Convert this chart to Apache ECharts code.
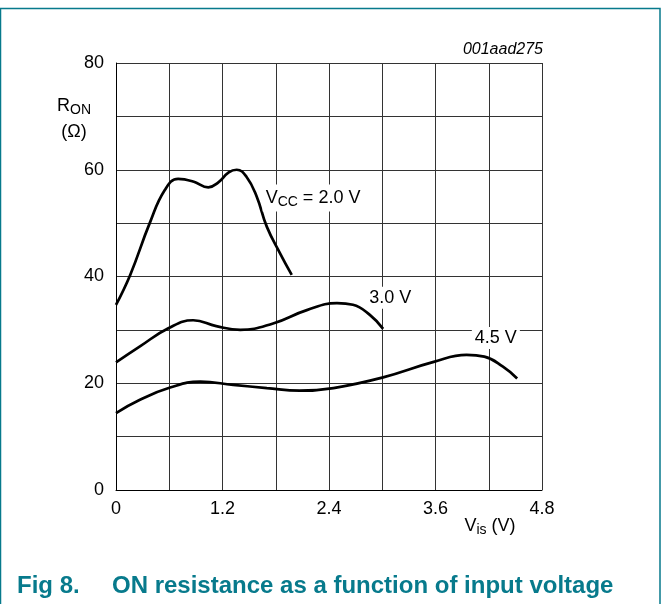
<!DOCTYPE html>
<html>
<head>
<meta charset="utf-8">
<script src="https://cdn.jsdelivr.net/npm/echarts@6/dist/echarts.min.js"></script>
<style>
html,body{margin:0;padding:0;background:#fff;}
#c{width:662px;height:604px;}
</style>
</head>
<body>
<div id="c"></div>
<script>
// Vis (V) and RON (ohm) for each supply voltage
var vis20 = [0, 0.16, 0.38, 0.55, 0.70, 0.87, 1.04, 1.15, 1.27, 1.36, 1.47, 1.585, 1.70, 1.85, 1.98];
var ron20 = [34.7, 40.3, 50.0, 56.2, 58.3, 57.8, 56.7, 57.6, 59.5, 60.0, 58.7, 55.0, 49.3, 44.3, 40.3];
var vis30 = [0, 0.27, 0.59, 0.87, 1.13, 1.40, 1.77, 2.15, 2.49, 2.67, 2.86, 3.01];
var ron30 = [23.9, 26.9, 30.3, 31.8, 30.7, 30.0, 31.2, 33.7, 35.0, 34.7, 32.8, 30.2];
var vis45 = [0, 0.27, 0.61, 0.95, 1.32, 1.70, 2.07, 2.45, 3.01, 3.58, 3.95, 4.15, 4.36, 4.52];
var ron45 = [14.4, 16.9, 19.2, 20.3, 19.7, 19.1, 18.6, 19.1, 21.1, 24.0, 25.3, 25.0, 23.1, 20.9];
var xTicks = [0, 1.2, 2.4, 3.6, 4.8];
var yTicks = [0, 20, 40, 60, 80];
var curveLabels = ['V{sub|CC} = 2.0 V', '3.0 V', '4.5 V'];
var labelAt = [[2.22, 54.7], [3.09, 36.0], [4.28, 28.5]];

var FONT = 'Liberation Sans, Arial, sans-serif';
var TEAL = '#077a8c';
function zip(a, b) { return a.map(function (v, i) { return [v, b[i]]; }); }
function near(v, list) { for (var i = 0; i < list.length; i++) { if (Math.abs(v - list[i]) < 1e-6) return list[i]; } return null; }

function makeSeries(xs, ys, idx) {
  return {
    type: 'line',
    data: zip(xs, ys),
    smooth: 0.45,
    showSymbol: false,
    lineStyle: { color: '#000', width: 2.7 },
    markPoint: {
      symbol: 'circle',
      symbolSize: 1,
      itemStyle: { color: 'transparent' },
      label: {
        show: true,
        position: 'inside',
        formatter: curveLabels[idx],
        color: '#000',
        fontFamily: FONT,
        fontSize: 18,
        backgroundColor: '#fff',
        padding: [2, 3],
        rich: {
          sub: { fontSize: 14, fontFamily: FONT, color: '#000', padding: [9, 0, 0, 0] }
        }
      },
      data: [{ coord: labelAt[idx] }]
    }
  };
}

var chart = echarts.init(document.getElementById('c'));
chart.setOption({
  animation: false,
  backgroundColor: '#fff',
  grid: { left: 116, top: 63, width: 426, height: 427 },
  xAxis: {
    type: 'value', min: 0, max: 4.8, interval: 0.6,
    axisLine: { show: true, lineStyle: { color: '#000', width: 1 } },
    axisTick: { show: false },
    splitLine: { show: true, lineStyle: { color: '#333', width: 1 } },
    axisLabel: {
      margin: 10, color: '#000', fontFamily: FONT, fontSize: 18,
      formatter: function (v) { var t = near(v, xTicks); return t === null ? '' : String(t); }
    }
  },
  yAxis: {
    type: 'value', min: 0, max: 80, interval: 10,
    axisLine: { show: true, lineStyle: { color: '#000', width: 1 } },
    axisTick: { show: false },
    splitLine: { show: true, lineStyle: { color: '#333', width: 1 } },
    axisLabel: {
      margin: 12, color: '#000', fontFamily: FONT, fontSize: 18,
      formatter: function (v) { var t = near(v, yTicks); return t === null ? '' : String(t); }
    }
  },
  series: [makeSeries(vis20, ron20, 0), makeSeries(vis30, ron30, 1), makeSeries(vis45, ron45, 2)],
  graphic: [
    { type: 'rect', shape: { x: 0.5, y: 8.5, width: 659.5, height: 700 }, style: { fill: 'none', stroke: TEAL, lineWidth: 1.5 }, silent: true },
    { type: 'text', x: 543, y: 50, style: { text: '001aad275', font: 'italic 16px ' + FONT, fill: '#000', align: 'right', verticalAlign: 'middle' } },
    { type: 'text', x: 74, y: 106, style: { text: 'R{sub|ON}', font: '18px ' + FONT, fill: '#000', align: 'center', verticalAlign: 'middle',
        rich: { sub: { fontSize: 14, fontFamily: FONT, fill: '#000', padding: [9, 0, 0, 0] } } } },
    { type: 'text', x: 74, y: 132, style: { text: '(Ω)', font: '18px ' + FONT, fill: '#000', align: 'center', verticalAlign: 'middle' } },
    { type: 'text', x: 490, y: 526, style: { text: 'V{sub|is} (V)', font: '18px ' + FONT, fill: '#000', align: 'center', verticalAlign: 'middle',
        rich: { sub: { fontSize: 14, fontFamily: FONT, fill: '#000', padding: [9, 0, 0, 0] } } } },
    { type: 'text', x: 17, y: 586, style: { text: 'Fig 8.', font: 'bold 24px ' + FONT, fill: TEAL, align: 'left', verticalAlign: 'middle' } },
    { type: 'text', x: 112, y: 586, style: { text: 'ON resistance as a function of input voltage', font: 'bold 24px ' + FONT, fill: TEAL, align: 'left', verticalAlign: 'middle' } }
  ]
});
</script>
</body>
</html>
